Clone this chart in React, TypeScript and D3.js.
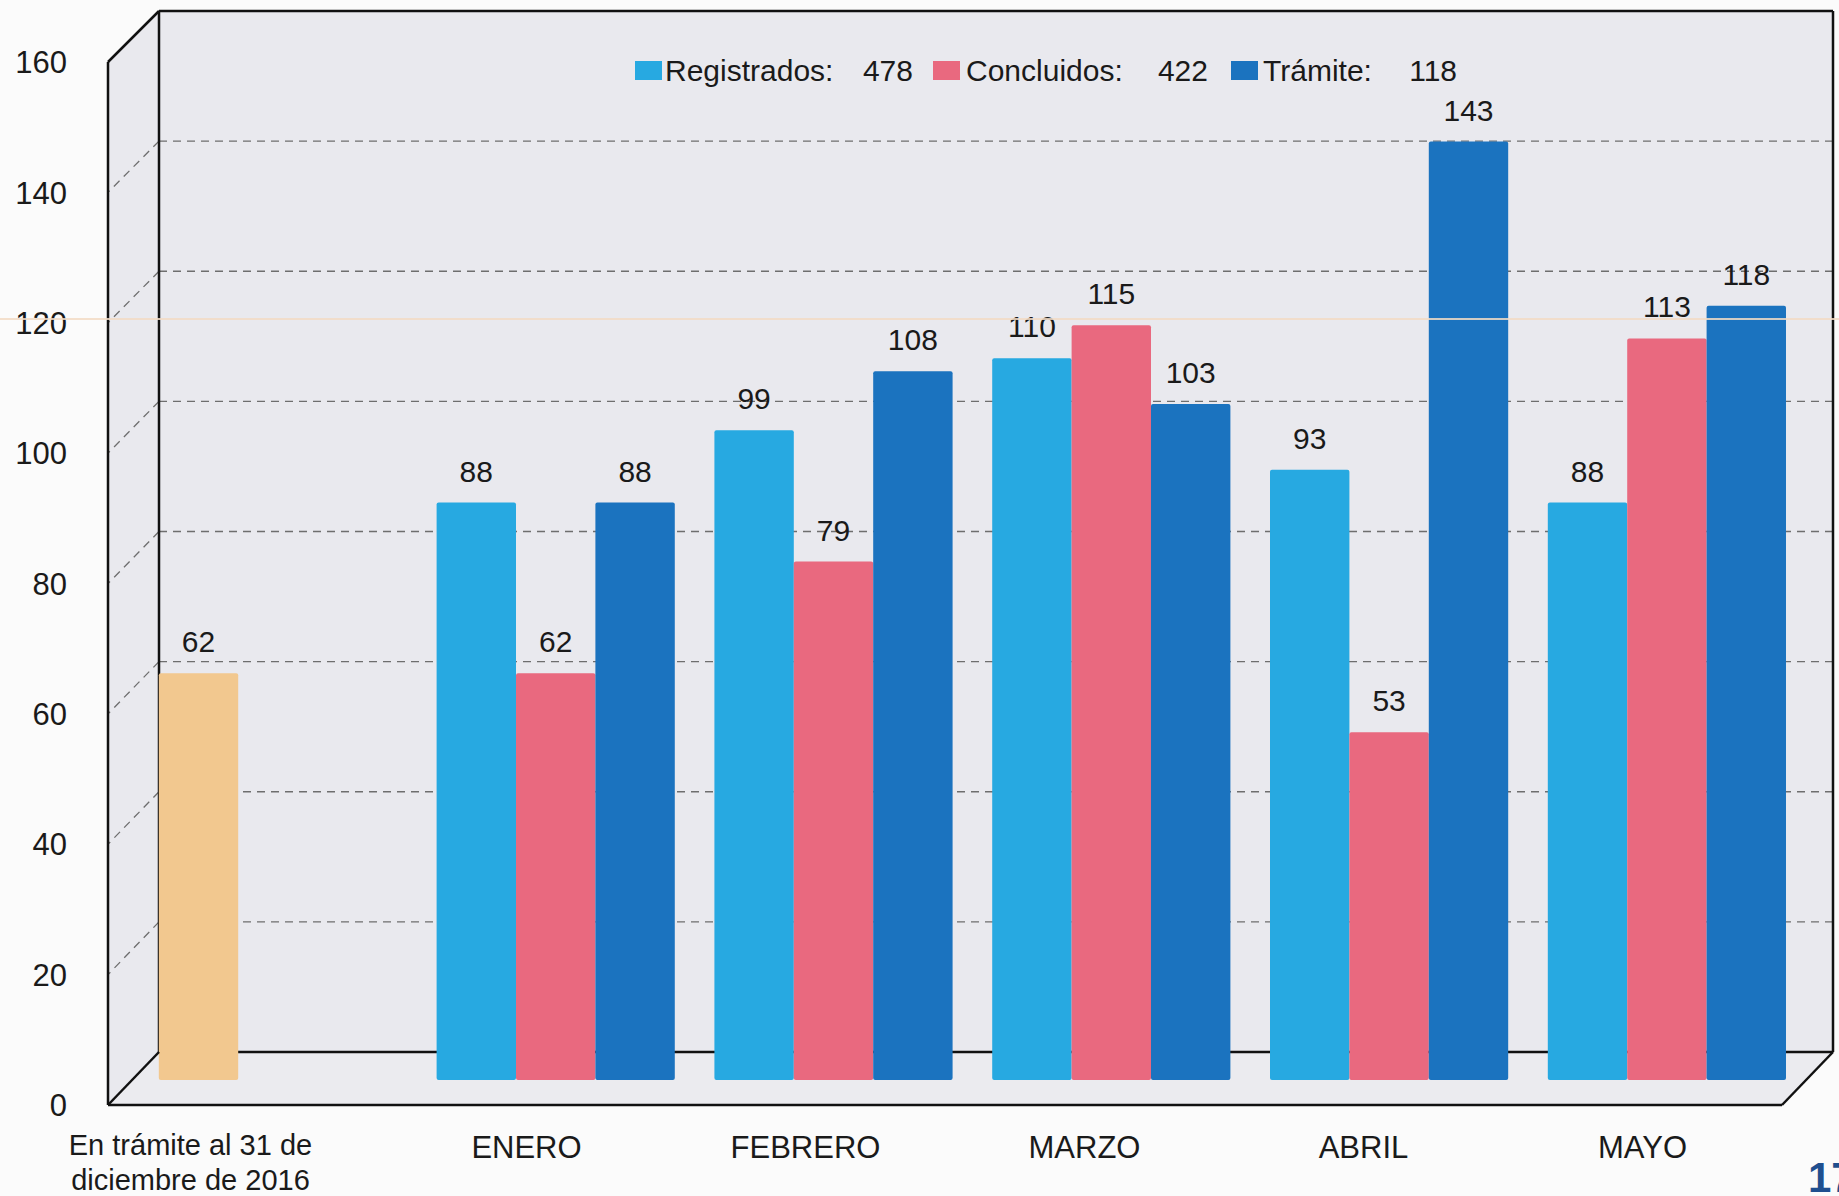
import React from 'react';
import * as d3 from 'd3';

// values
const categories = ['En trámite al 31 de diciembre de 2016', 'ENERO', 'FEBRERO', 'MARZO', 'ABRIL', 'MAYO'];
const categoryLines = [['En trámite al 31 de', 'diciembre de 2016'], ['ENERO'], ['FEBRERO'], ['MARZO'], ['ABRIL'], ['MAYO']];
const months = categories.slice(1);
const pendingStart = [62];
const registrados = [88, 99, 110, 93, 88];
const concluidos = [62, 79, 115, 53, 113];
const tramite = [88, 108, 103, 143, 118];
const seriesNames = ['Registrados', 'Concluidos', 'Trámite'];
const seriesColors = ['#27a9e1', '#e9697f', '#1b73bf'];
const pendingColor = '#f2c88f';
const yTicks = [0, 20, 40, 60, 80, 100, 120, 140, 160];

const W = 1839;
const H = 1196;
const FONT = '"Liberation Sans", Arial, sans-serif';

// box of the 3d chart: back wall, then the bar plane and the front edge shifted down-left
const back = { left: 159, right: 1833, top: 11, floor: 1052 };
const front = { dx: -51, dy: 53 };
const mid = { dx: -20, dy: 28 };

const yBack = d3.scaleLinear().domain([0, 160]).range([back.floor, back.top]);
const yBar = d3.scaleLinear().domain([0, 160]).range([back.floor + mid.dy, 30]);
const yFront = d3.scaleLinear().domain([0, 160]).range([back.floor + front.dy, back.top + 51]);

// bars sit a little narrower than the back wall (perspective)
const barStep = 277.8;
const x0 = d3.scaleBand<string>()
  .domain(categories)
  .range([back.left + mid.dx, back.left + mid.dx + barStep * categories.length])
  .paddingInner(0.1426)
  .paddingOuter(0.0713);

const x1 = d3.scaleBand<string>()
  .domain(seriesNames)
  .range([0, x0.bandwidth()]);

const xFront = d3.scaleBand<string>()
  .domain(categories)
  .range([back.left + front.dx, back.right + front.dx]);

const values = [registrados, concluidos, tramite];
const totals = [d3.sum(registrados), d3.sum(concluidos), tramite[tramite.length - 1]];

// legend placement
const legendSwatchX = [635, 933, 1231];
const legendNameX = [665, 966, 1263];
const legendValueEnd = [913, 1208, 1457];

const App = () => {
  const fl = back.left + front.dx;
  const fr = back.right + front.dx;
  const ff = back.floor + front.dy;

  const bars: { x: number; v: number; color: string; key: string }[] = [];
  bars.push({ x: x0(categories[0])! + x1(seriesNames[0])!, v: pendingStart[0], color: pendingColor, key: 'pend' });
  months.forEach((m, i) => {
    seriesNames.forEach((s, j) => {
      bars.push({ x: x0(m)! + x1(s)!, v: values[j][i], color: seriesColors[j], key: `${m}-${s}` });
    });
  });

  return (
    <svg width={W} height={H} style={{ position: 'absolute', left: 0, top: 0, background: '#fbfbfb' }} fontFamily={FONT}>
      {/* walls and floor */}
      <polygon points={`${back.left},${back.top} ${back.right},${back.top} ${back.right},${back.floor} ${back.left},${back.floor}`} fill="#e9e9ee" />
      <polygon points={`${fl},${yFront(160)} ${back.left},${back.top} ${back.left},${back.floor} ${fl},${ff}`} fill="#e9e9ee" />
      <polygon points={`${fl},${ff} ${back.left},${back.floor} ${back.right},${back.floor} ${fr},${ff}`} fill="#ebebef" />

      {/* gridlines */}
      {yTicks.filter(t => t > 0 && t < 160).map(t => (
        <g key={t} stroke="#6e6e6e" strokeWidth={1.3} strokeDasharray="8,6">
          <line x1={back.left} x2={back.right} y1={yBack(t)} y2={yBack(t)} />
          <line x1={back.left} x2={fl} y1={yBack(t)} y2={yFront(t)} />
        </g>
      ))}

      {/* back frame */}
      <g stroke="#111" strokeWidth={2.5} fill="none">
        <line x1={back.left} x2={back.right} y1={back.top} y2={back.top} />
        <line x1={back.left} x2={back.left} y1={back.top} y2={back.floor} />
        <line x1={back.right} x2={back.right} y1={back.top} y2={back.floor} />
        <line x1={back.left} x2={back.right} y1={back.floor} y2={back.floor} />
      </g>

      {/* bars */}
      {bars.map(b => (
        <rect key={b.key} x={b.x} y={yBar(b.v)} width={x1.bandwidth()} height={yBar(0) - yBar(b.v)} fill={b.color} rx={2} />
      ))}

      {/* front frame */}
      <g stroke="#111" strokeWidth={2.5} fill="none">
        <line x1={fl} x2={fl} y1={yFront(160)} y2={ff} />
        <line x1={fl} x2={back.left} y1={yFront(160)} y2={back.top} />
        <line x1={fl} x2={back.left} y1={ff} y2={back.floor} />
        <line x1={fl} x2={fr} y1={ff} y2={ff} />
        <line x1={fr} x2={back.right} y1={ff} y2={back.floor} />
      </g>

      {/* data labels */}
      {bars.map(b => (
        <text key={`l-${b.key}`} x={b.x + x1.bandwidth() / 2} y={yBar(b.v) - 21} textAnchor="middle" fontSize={30} fill="#1a1a1a">
          {b.v}
        </text>
      ))}

      {/* y axis labels */}
      {yTicks.map(t => (
        <text key={`t-${t}`} x={67} y={yFront(t)} dy="0.36em" textAnchor="end" fontSize={31} fill="#1a1a1a">{t}</text>
      ))}

      {/* category labels */}
      {categories.map((c, i) => {
        const cx = xFront(c)! + xFront.bandwidth() / 2 + (i === 0 ? -57 : 0);
        const lines = categoryLines[i];
        return (
          <text key={`c-${c}`} x={cx} y={lines.length > 1 ? 1155 : 1158} textAnchor="middle" fontSize={lines.length > 1 ? 29 : 31} fill="#1a1a1a">
            {lines.map((ln, k) => (
              <tspan key={k} x={cx} dy={k === 0 ? 0 : 35}>{ln}</tspan>
            ))}
          </text>
        );
      })}

      {/* legend */}
      {seriesNames.map((s, i) => (
        <g key={`lg-${s}`}>
          <rect x={legendSwatchX[i]} y={61} width={27} height={19} fill={seriesColors[i]} />
          <text x={legendNameX[i]} y={81} fontSize={30} fill="#1a1a1a">{s}:</text>
          <text x={legendValueEnd[i]} y={81} fontSize={30} fill="#1a1a1a" textAnchor="end">{totals[i]}</text>
        </g>
      ))}

      {/* faint scan streak across the page */}
      <line x1={0} x2={W} y1={319} y2={319} stroke="#f3dcc6" strokeWidth={2} opacity={0.85} />

      {/* page number, cut by the page edge as in the scan */}
      <text x={1808} y={1192} fontSize={42} fontWeight="bold" fill="#1f4f8f">17</text>
    </svg>
  );
};

export default App;
